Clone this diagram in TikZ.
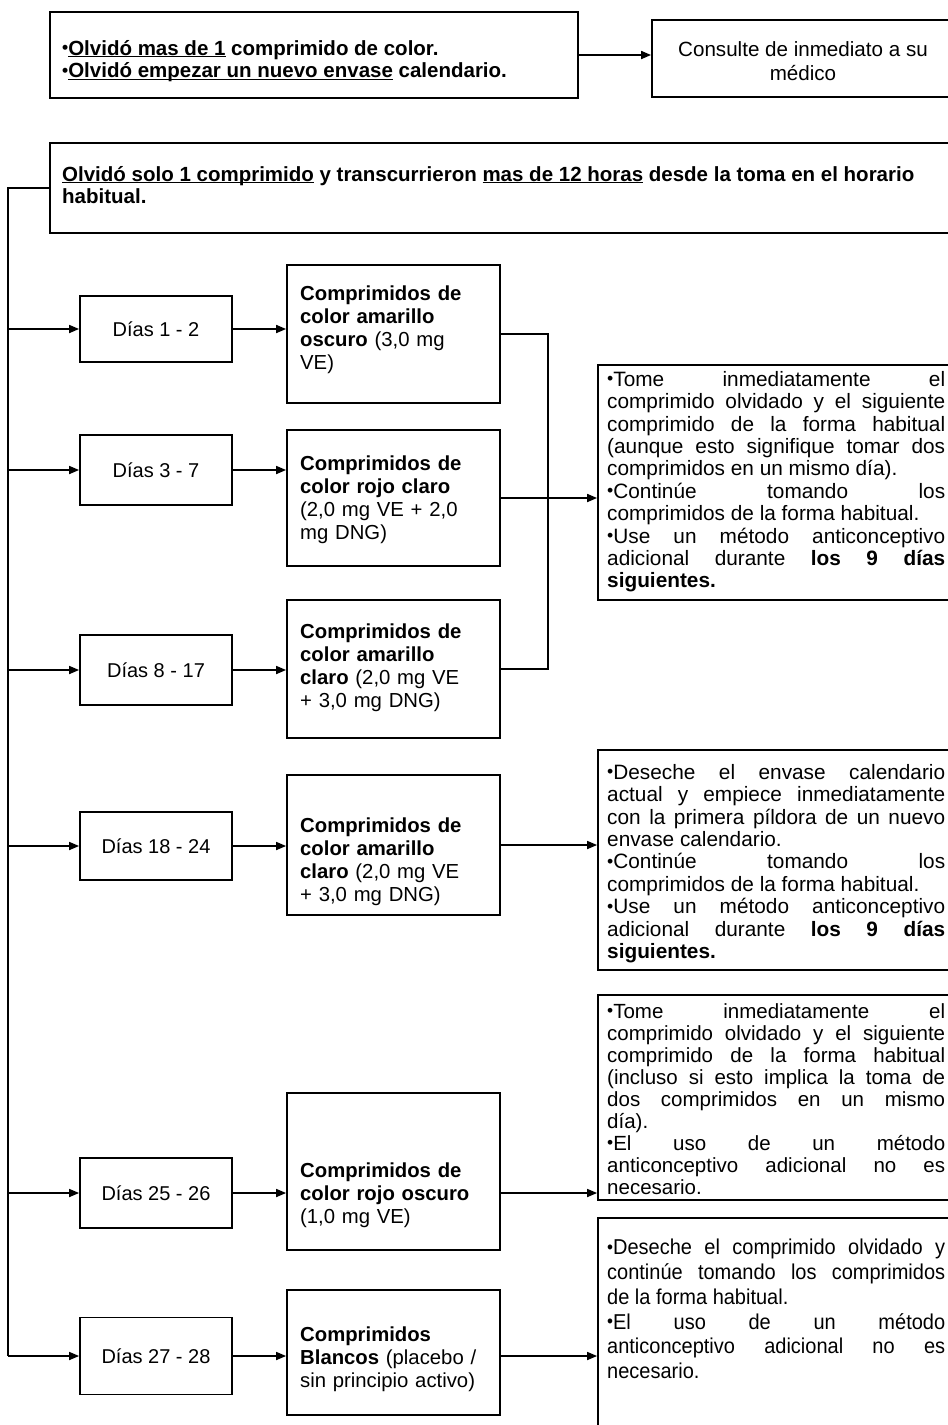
\documentclass[tikz,border=0pt]{standalone}
\usepackage{fontspec}
\setmainfont{Liberation Sans}
\newfontfamily\narrowf[FakeStretch=0.93]{Liberation Sans}
\usetikzlibrary{arrows.meta}
\setlength\parindent{0pt}
\hbadness=10000 \vbadness=10000 \hfuzz=30pt
\newcommand\bl{\raisebox{0.08em}{\scalebox{0.85}{•}}}
\newcommand\ulx[1]{\underline{\smash{#1}}}
\tikzset{
 box/.style={draw, line width=1.8pt, inner sep=0pt},
 txt/.style={inner sep=0pt, font=\fontsize{20}{22.5}\selectfont},
 btxt/.style={inner sep=0pt, font=\fontsize{20.5}{22.5}\selectfont\bfseries},
 rtxt/.style={inner sep=0pt, anchor=north west, text width=338pt, align=justify, font=\fontsize{20.8}{22.4}\selectfont},
 ctxt/.style={inner sep=0pt, anchor=west, text width=200pt, align=left, font=\fontsize{20.3}{23}\selectfont},
 arr/.style={line width=1.7pt, -{Triangle[length=10pt,width=8pt]}},
 ln/.style={line width=1.7pt},
}
\begin{document}
\begin{tikzpicture}[x=1pt,y=-1pt]
\clip (0,0) rectangle (948,1425);
\fill[white] (0,0) rectangle (948,1425);

% top row
\node[box, minimum width=528pt, minimum height=86pt] (A) at (314,55) {};
\node[btxt, anchor=west, align=left] (At) at (62,60) {\bl\ulx{Olvidó mas de 1} comprimido de color.\\\bl\ulx{Olvidó empezar un nuevo envase} calendario.};
\node[box, minimum width=308pt, minimum height=77pt] (B) at (806,58.5) {};
\node[txt, align=center, font=\fontsize{20.6}{24}\selectfont] (Bt) at (803,61) {Consulte de inmediato a su\\médico};
\draw[arr] (A.east) -- (A.east -| B.west);

% header
\node[box, minimum width=910pt, minimum height=90pt] (C) at (505,188) {};
\node[btxt, anchor=north west, align=left] (Ct) at (62,166) {\ulx{Olvidó solo 1 comprimido} y transcurrieron \ulx{mas de 12 horas} desde la toma en el horario\\habitual.};

% day boxes
\node[box, txt, minimum width=152pt, minimum height=66pt] (d1) at (156,329) {Días 1 - 2};
\node[box, txt, minimum width=152pt, minimum height=70pt] (d2) at (156,470) {Días 3 - 7};
\node[box, txt, minimum width=152pt, minimum height=70pt] (d3) at (156,670) {Días 8 - 17};
\node[box, txt, minimum width=152pt, minimum height=68pt] (d4) at (156,846) {Días 18 - 24};
\node[box, txt, minimum width=152pt, minimum height=70pt] (d5) at (156,1193) {Días 25 - 26};
\node[box, txt, minimum width=152pt, minimum height=77pt] (d6) at (156,1356) {Días 27 - 28};

% tablet boxes
\node[box, minimum width=213pt, minimum height=138pt] (c1) at (393.5,334) {};
\node[box, minimum width=213pt, minimum height=136pt] (c2) at (393.5,498) {};
\node[box, minimum width=213pt, minimum height=138pt] (c3) at (393.5,669) {};
\node[box, minimum width=213pt, minimum height=140pt] (c4) at (393.5,845) {};
\node[box, minimum width=213pt, minimum height=157pt] (c5) at (393.5,1171.5) {};
\node[box, minimum width=213pt, minimum height=125pt] (c6) at (393.5,1352.5) {};
\node[ctxt] (c1t) at (300,330) {\textbf{Comprimidos de}\\\textbf{color amarillo}\\\textbf{oscuro} (3,0 mg\\VE)};
\node[ctxt] (c2t) at (300,500) {\textbf{Comprimidos de}\\\textbf{color rojo claro}\\(2,0 mg VE + 2,0\\mg DNG)};
\node[ctxt] (c3t) at (300,668) {\textbf{Comprimidos de}\\\textbf{color amarillo}\\\textbf{claro} (2,0 mg VE\\+ 3,0 mg DNG)};
\node[ctxt] (c4t) at (300,862) {\textbf{Comprimidos de}\\\textbf{color amarillo}\\\textbf{claro} (2,0 mg VE\\+ 3,0 mg DNG)};
\node[ctxt] (c5t) at (300,1195) {\textbf{Comprimidos de}\\\textbf{color rojo oscuro}\\(1,0 mg VE)};
\node[ctxt] (c6t) at (300,1359) {\textbf{Comprimidos}\\\textbf{Blancos} (placebo /\\sin principio activo)};

% right boxes
\node[box, minimum width=362pt, minimum height=235pt] (r1) at (779,482.5) {};
\node[box, minimum width=362pt, minimum height=220pt] (r2) at (779,860) {};
\node[box, minimum width=362pt, minimum height=205pt] (r3) at (779,1097.5) {};
\node[box, minimum width=362pt, minimum height=222pt] (r4) at (779,1329) {};

\node[rtxt] (r1t) at (607,371) {\bl Tome inmediatamente el\linebreak comprimido olvidado y el siguiente\linebreak comprimido de la forma habitual\linebreak (aunque esto signifique tomar dos\linebreak comprimidos en un mismo día).\par
\bl Continúe tomando los\linebreak comprimidos de la forma habitual.\par
\bl Use un método anticonceptivo\linebreak adicional durante \textbf{los 9 días\linebreak siguientes.}};
\node[rtxt] (r2t) at (607,764) {\bl Deseche el envase calendario\linebreak actual y empiece inmediatamente\linebreak con la primera píldora de un nuevo\linebreak envase calendario.\par
\bl Continúe tomando los\linebreak comprimidos de la forma habitual.\par
\bl Use un método anticonceptivo\linebreak adicional durante \textbf{los 9 días\linebreak siguientes.}};
\node[rtxt, font=\fontsize{20.5}{22}\selectfont] (r3t) at (607,1003) {\bl Tome inmediatamente el\linebreak comprimido olvidado y el siguiente\linebreak comprimido de la forma habitual\linebreak (incluso si esto implica la toma de\linebreak dos comprimidos en un mismo\linebreak día).\par
\bl El uso de un método\linebreak anticonceptivo adicional no es\linebreak necesario.};
\node[rtxt, font=\narrowf\fontsize{21.5}{24.8}\selectfont] (r4t) at (607,1239) {\bl Deseche el comprimido olvidado y\linebreak continúe tomando los comprimidos\linebreak de la forma habitual.\par
\bl El uso de un método\linebreak anticonceptivo adicional no es\linebreak necesario.};

% spine
\coordinate (top) at (8,188);
\coordinate (s1) at (8,329);
\coordinate (s2) at (8,470);
\coordinate (s3) at (8,670);
\coordinate (s4) at (8,846);
\coordinate (s5) at (8,1193);
\coordinate (s6) at (8,1356);
\draw[ln] (C.west) -- (top) -- (s6);
\foreach \i in {1,...,6} {\draw[arr] (s\i) -- (d\i.west);}

% day -> tablet
\foreach \i in {1,...,6} {\draw[arr] (d\i.east) -- (d\i.east -| c\i.west);}

% bracket
\coordinate (bt) at (548,334);
\coordinate (bb) at (548,669);
\draw[ln] (c1.east) -- (bt) -- (bb) -- (c3.east);
\draw[arr] (c2.east) -- (c2.east -| r1.west);
\draw[arr] (c4.east) -- (c4.east -| r2.west);
\draw[arr] (c5.east |- d5.east) -- (d5.east -| r3.west);
\draw[arr] (c6.east |- d6.east) -- (d6.east -| r4.west);
\end{tikzpicture}
\end{document}
